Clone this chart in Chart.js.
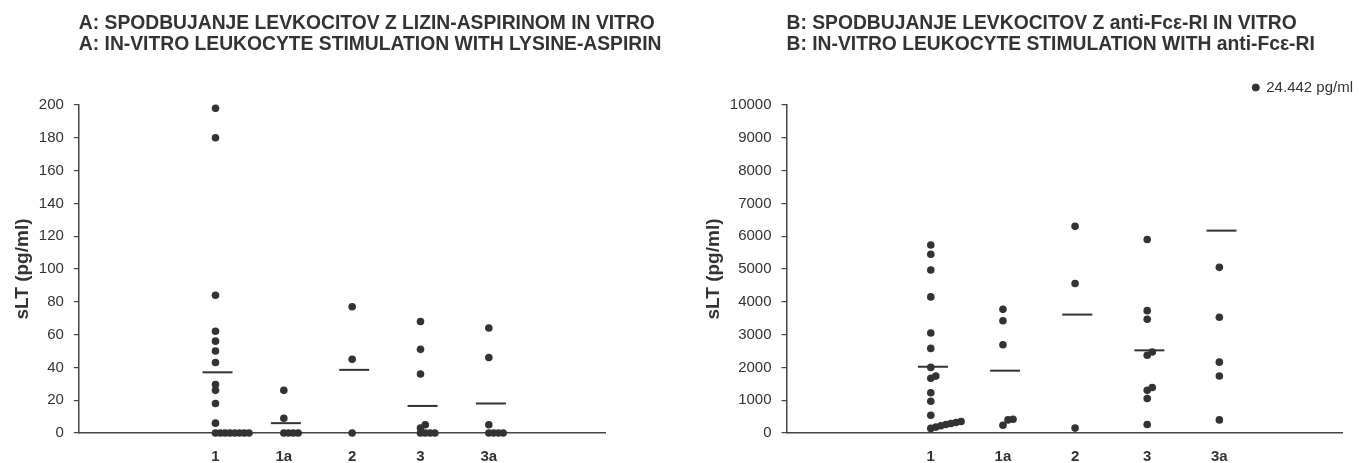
<!DOCTYPE html>
<html>
<head>
<meta charset="utf-8">
<title>sLT in vitro</title>
<script src="https://cdn.jsdelivr.net/npm/chart.js@4.4.1/dist/chart.umd.min.js"></script>
<style>
  html, body { margin: 0; padding: 0; background: #fff; overflow: hidden; }
  #wrap { position: relative; width: 1359px; height: 463px; }
  canvas { position: absolute; top: 0; }
  #chartA { left: 0; }
  #chartB { left: 690px; }
</style>
</head>
<body>
<div id="wrap">
  <canvas id="chartA" width="680" height="463"></canvas>
  <canvas id="chartB" width="669" height="463"></canvas>
</div>
<script>
// Groups along the x axis
const groups = ['1', '1a', '2', '3', '3a'];

// Panel A - lysine-aspirin, sLT (pg/ml)
const aGroup1 = [198, 180, 84, 62, 56, 50, 43, 29.5, 26, 18, 6, 0, 0, 0, 0, 0, 0, 0, 0];
const aGroup1a = [26, 9, 0, 0, 0, 0];
const aGroup2 = [77, 45, 0];
const aGroup3 = [68, 51, 36, 5, 3, 0, 0, 0, 0];
const aGroup3a = [64, 46, 5, 0, 0, 0, 0];
const aMedians = [37, 6, 38.5, 16.5, 18];
const aYMax = 200;
const aYStep = 20;

// Panel B - anti-FceRI, sLT (pg/ml)
const bGroup1 = [5730, 5450, 4970, 4150, 3050, 2580, 2000, 1735, 1670, 1226, 970, 540, 350, 320, 290, 260, 220, 180, 140];
const bGroup1a = [3770, 3420, 2690, 420, 400, 235];
const bGroup2 = [6300, 4560, 150];
const bGroup3 = [5900, 3730, 3470, 2470, 2370, 1385, 1300, 1050, 260];
const bGroup3a = [5050, 3530, 2160, 1740, 400];
const bMedians = [2020, 1900, 3610, 2520, 6170];
const bYMax = 10000;
const bYStep = 1000;
const bOutlier = 24442; // off the scale, shown as a note

const titleA = ['A: SPODBUJANJE LEVKOCITOV Z LIZIN-ASPIRINOM IN VITRO',
                'A: IN-VITRO LEUKOCYTE STIMULATION WITH LYSINE-ASPIRIN'];
const titleB = ['B: SPODBUJANJE LEVKOCITOV Z anti-Fc\u03b5-RI IN VITRO',
                'B: IN-VITRO LEUKOCYTE STIMULATION WITH anti-Fc\u03b5-RI'];

const FIRST = 2;     // first group sits two slots right of the y axis
const X_MAX = 7.7;
const STEP = 0.07;   // sideways shift for points that would overlap
const INK = '#333';

Chart.defaults.font.family = '"Liberation Sans", Arial, Helvetica, sans-serif';
Chart.defaults.color = INK;

// spread touching points sideways, like the original dot plot
function dotPoints(series, near) {
    const pts = [];
    series.forEach((values, i) => {
        const sorted = [...values].sort((a, b) => a - b);
        let slot = 0;
        sorted.forEach((v, k) => {
            slot = (k > 0 && v - sorted[k - 1] < near) ? slot + 1 : 0;
            pts.push({ x: i + FIRST + slot * STEP, y: v });
        });
    });
    return pts;
}

function medianPoints(medians) {
    return medians.map((m, i) => ({ x: i + FIRST + 0.03, y: m }));
}

// two-line heading, left aligned with the y axis
const panelTitle = {
    id: 'panelTitle',
    afterDraw(chart, args, opts) {
        const { ctx, chartArea } = chart;
        ctx.save();
        ctx.font = 'bold 19.3px "Liberation Sans", Arial, sans-serif';
        ctx.fillStyle = INK;
        ctx.textBaseline = 'middle';
        opts.lines.forEach((line, i) => ctx.fillText(line, chartArea.left, 24 + i * 21));
        ctx.restore();
    }
};

function makePanel(id, title, series, medians, yMax, yStep, near, padding, extra) {
    const datasets = [
        {
            label: 'sLT',
            data: dotPoints(series, near),
            pointStyle: 'circle',
            pointRadius: 3.8,
            backgroundColor: INK,
            borderColor: INK,
            borderWidth: 0,
            clip: false
        },
        {
            label: 'median',
            data: medianPoints(medians),
            pointStyle: 'line',
            pointRadius: 15,
            pointBorderWidth: 2,
            borderColor: INK,
            clip: false
        }
    ];
    if (extra) datasets.push(extra);

    return new Chart(document.getElementById(id), {
        type: 'scatter',
        data: { datasets },
        plugins: [panelTitle],
        options: {
            responsive: false,
            animation: false,
            events: [],
            layout: { padding },
            scales: {
                x: {
                    type: 'linear',
                    min: 0,
                    max: X_MAX,
                    afterBuildTicks: axis => {
                        axis.ticks = groups.map((g, i) => ({ value: i + FIRST }));
                    },
                    ticks: {
                        callback: v => groups[v - FIRST] ?? '',
                        font: { size: 15, weight: 'bold', lineHeight: 1 },
                        padding: 16,
                        color: INK
                    },
                    grid: { display: false, drawTicks: false },
                    border: { color: '#444', width: 1.5 }
                },
                y: {
                    min: 0,
                    max: yMax,
                    ticks: {
                        stepSize: yStep,
                        callback: v => String(v),
                        font: { size: 15 },
                        padding: 10,
                        color: INK
                    },
                    grid: { drawOnChartArea: false, tickLength: 5, color: '#444', lineWidth: 1.2 },
                    border: { color: '#444', width: 1.5 },
                    title: {
                        display: true,
                        text: 'sLT (pg/ml)',
                        font: { size: 19, weight: 'bold' },
                        padding: { top: 4, bottom: -5 },
                        color: INK
                    }
                }
            },
            plugins: {
                panelTitle: { lines: title },
                tooltip: { enabled: false },
                legend: {
                    display: !!extra,
                    position: 'top',
                    align: 'end',
                    labels: {
                        usePointStyle: true,
                        boxWidth: 6,
                        boxHeight: 5,
                        padding: 2,
                        font: { size: 15 },
                        color: INK,
                        filter: item => item.datasetIndex === 2
                    }
                }
            }
        }
    });
}

// 24442 -> "24.442"
const outlierText = String(bOutlier).replace(/\B(?=(\d{3})+(?!\d))/g, '.') + ' pg/ml';

makePanel('chartA', titleA,
    [aGroup1, aGroup1a, aGroup2, aGroup3, aGroup3a], aMedians,
    aYMax, aYStep, 3, { top: 105, left: 7, right: 75, bottom: -17 });

makePanel('chartB', titleB,
    [bGroup1, bGroup1a, bGroup2, bGroup3, bGroup3a], bMedians,
    bYMax, bYStep, 180, { top: 78, left: 8, right: 4, bottom: -17 },
    {
        label: outlierText,
        data: [],
        pointStyle: 'circle',
        backgroundColor: INK,
        borderColor: INK
    });
</script>
</body>
</html>
